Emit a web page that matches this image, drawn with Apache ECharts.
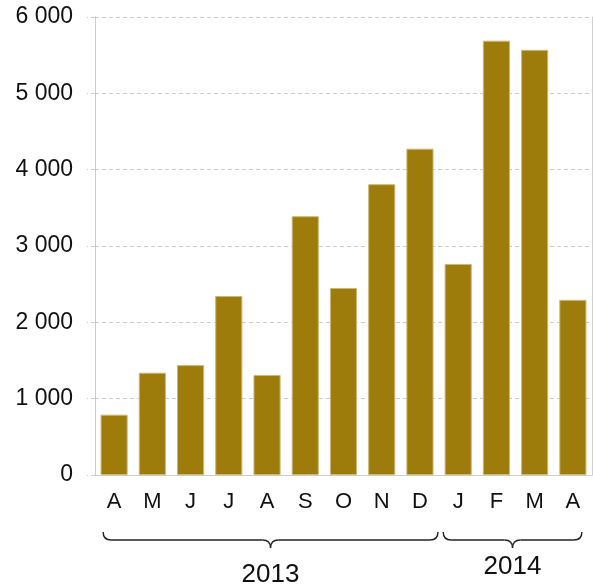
<!DOCTYPE html>
<html>
<head>
<meta charset="utf-8">
<script src="https://cdn.jsdelivr.net/npm/echarts@6/dist/echarts.min.js"></script>
<style>
  html, body { margin: 0; padding: 0; background: #fff; }
  #chart { width: 593px; height: 587px; }
</style>
</head>
<body>
<div id="chart"></div>
<script>
var months = ['A', 'M', 'J', 'J', 'A', 'S', 'O', 'N', 'D', 'J', 'F', 'M', 'A'];
var values = [790, 1340, 1440, 2345, 1310, 3390, 2450, 3810, 4275, 2765, 5690, 5570, 2295];
var years = ['2013', '2014'];
var yearSpans = [[0, 8], [9, 12]];

var FONT = '"Liberation Sans", Arial, sans-serif';
var chartDom = document.getElementById('chart');
var myChart = echarts.init(chartDom);

var option = {
  animation: false,
  grid: { left: 95, right: 1, top: 17, bottom: 112 },
  xAxis: {
    type: 'category',
    data: months,
    axisLine: { lineStyle: { color: '#cccccc', width: 1 } },
    axisTick: { show: false },
    axisLabel: { color: '#111', fontSize: 22, fontFamily: FONT, margin: 16, interval: 0 }
  },
  yAxis: [{
    type: 'value',
    min: 0,
    max: 6000,
    interval: 1000,
    axisLine: { show: true, lineStyle: { color: '#cccccc', width: 1 } },
    axisTick: { show: true, length: 8, lineStyle: { color: '#cccccc', type: [4, 3] } },
    axisLabel: {
      color: '#111', fontSize: 23, fontFamily: FONT, margin: 22,
      formatter: function (v) { return String(v).replace(/\B(?=(\d{3})+(?!\d))/g, ' '); }
    },
    splitLine: { lineStyle: { color: '#cccccc', type: [4, 3] } }
  }, {
    // right frame line only
    type: 'value',
    position: 'right',
    min: 0,
    max: 6000,
    interval: 1000,
    axisLine: { show: true, lineStyle: { color: '#d0d0d0', width: 1 } },
    axisTick: { show: false },
    axisLabel: { show: false },
    splitLine: { show: false }
  }],
  series: [{
    type: 'bar',
    data: values,
    barCategoryGap: '29%',
    itemStyle: { color: '#9e7c0c', borderColor: '#cdb878', borderWidth: 1 }
  }]
};

myChart.setOption(option);

// year braces under the category axis, built from curves and lines
var LINE = { stroke: '#222', lineWidth: 1.4, fill: null };
function brace(x1, x2, y0) {
  var ym = y0 + 8, y1 = y0 + 16, r = 8, xm = (x1 + x2) / 2;
  function q(ax, ay, cx, cy, bx, by) {
    return { type: 'bezierCurve', shape: { x1: ax, y1: ay, cpx1: cx, cpy1: cy, x2: bx, y2: by }, style: LINE };
  }
  function l(ax, ay, bx, by) {
    return { type: 'line', shape: { x1: ax, y1: ay, x2: bx, y2: by }, style: LINE };
  }
  return [
    q(x1, y0, x1, ym, x1 + r, ym),
    l(x1 + r, ym, xm - r, ym),
    q(xm - r, ym, xm, ym, xm, y1),
    q(xm, y1, xm, ym, xm + r, ym),
    l(xm + r, ym, x2 - r, ym),
    q(x2 - r, ym, x2, ym, x2, y0)
  ];
}

var braceOffsets = [[-11, 18], [-15, 9]];
var labelY = [575, 567];
var graphics = [];
for (var i = 0; i < years.length; i++) {
  var xa = myChart.convertToPixel({ xAxisIndex: 0 }, yearSpans[i][0]) + braceOffsets[i][0];
  var xb = myChart.convertToPixel({ xAxisIndex: 0 }, yearSpans[i][1]) + braceOffsets[i][1];
  graphics = graphics.concat(brace(xa, xb, 532));
  graphics.push({
    type: 'text',
    x: (xa + xb) / 2,
    y: labelY[i],
    style: {
      text: years[i], fill: '#111', font: '26px ' + FONT,
      textAlign: 'center', textVerticalAlign: 'middle'
    }
  });
}
myChart.setOption({ graphic: graphics });

window.addEventListener('resize', myChart.resize);
</script>
</body>
</html>
